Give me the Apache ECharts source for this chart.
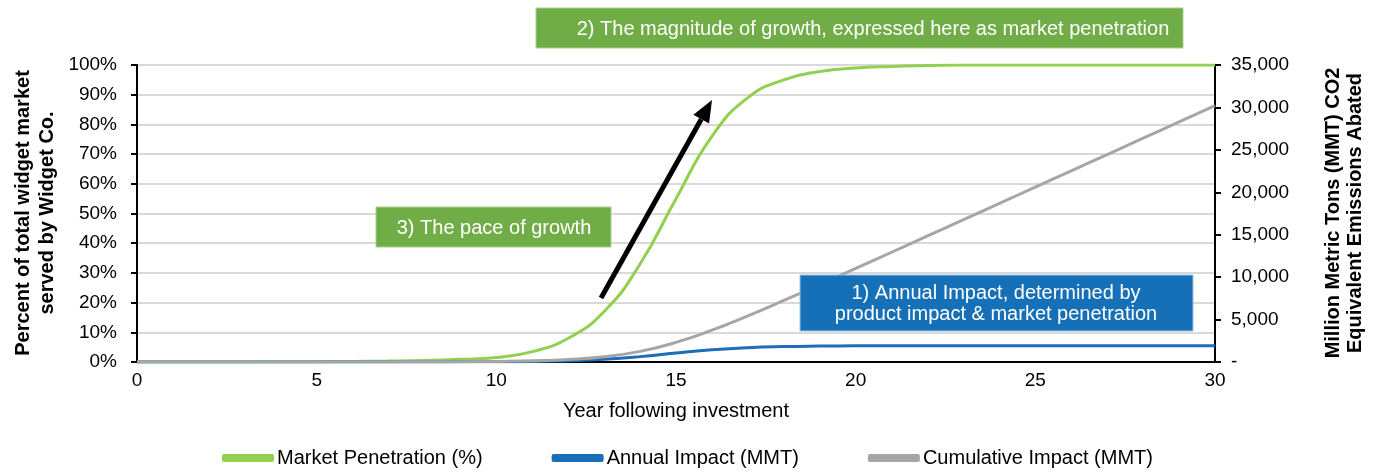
<!DOCTYPE html>
<html>
<head>
<meta charset="utf-8">
<script src="https://cdn.jsdelivr.net/npm/echarts@6/dist/echarts.min.js"></script>
<style>
html,body{margin:0;padding:0;background:#fff;}
#c{width:1374px;height:472px;}
</style>
</head>
<body>
<div id="c"></div>
<script>
// ---- data ----
const years = [0,1,2,3,4,5,6,7,8,9,10,11,12,13,14,15,16,17,18,19,20,21,22,23,24,25,26,27,28,29,30];
const marketPenetration = [0,0,0,0,0.1,0.1,0.2,0.3,0.5,0.9,1.5,3.5,8,17,33,55,76,89,95,97.8,99,99.5,99.8,100,100,100,100,100,100,100,100];
const annualImpact = [0,0,0,0,2,2,4,6,10,17,29,67,154,326,634,1056,1440,1690,1814,1872,1901,1910,1916,1920,1920,1920,1920,1920,1920,1920,1920];
const cumulativeImpact = [0,0,0,0,2,4,8,14,24,41,70,137,291,617,1251,2307,3747,5437,7251,9123,11024,12934,14850,16770,18690,20610,22530,24450,26370,28290,30210];
const seriesNames = ['Market Penetration (%)','Annual Impact (MMT)','Cumulative Impact (MMT)'];
const leftAxisTitle = 'Percent of total widget market\nserved by Widget Co.';
const rightAxisTitle = 'Million Metric Tons (MMT) CO2\nEquivalent Emissions Abated';
const xAxisTitle = 'Year following investment';
const note1 = '1) Annual Impact, determined by\nproduct impact & market penetration';
const note2 = '2) The magnitude of growth, expressed here as market penetration';
const note3 = '3) The pace of growth';

const FONT = 'Liberation Sans, Arial, Helvetica, sans-serif';
const pair = (arr) => years.map((y,i)=>[y,arr[i]]);

const chart = echarts.init(document.getElementById('c'), null, {renderer:'canvas'});

// arrow geometry (annotation)
const tail=[601,298], tip=[712,100];
const dx=tip[0]-tail[0], dy=tip[1]-tail[1], L=Math.hypot(dx,dy);
const ux=dx/L, uy=dy/L, nx=-uy, ny=ux;
const hl=22, hw=9;
const bx=tip[0]-hl*ux, by=tip[1]-hl*uy;

const option = {
  animation:false,
  textStyle:{fontFamily:FONT},
  grid:{left:137,right:159,top:65,bottom:110},
  legend:{
    data:seriesNames,
    bottom:4,
    left:222,
    padding:0,
    itemWidth:52,
    itemHeight:8,
    itemGap:69,
    icon:'roundRect',
    textStyle:{fontSize:20,color:'#000',fontFamily:FONT,padding:[0,0,0,-2]}
  },
  xAxis:{
    type:'value',min:0,max:30,interval:5,
    name:xAxisTitle,nameLocation:'middle',nameGap:39,
    nameTextStyle:{fontSize:20,color:'#000',fontFamily:FONT},
    axisLine:{show:true,lineStyle:{color:'#000',width:2}},
    axisTick:{show:false},
    splitLine:{show:false},
    axisLabel:{fontSize:19,color:'#000',margin:9,fontFamily:FONT}
  },
  yAxis:[{
    type:'value',min:0,max:100,interval:10,position:'left',
    axisLine:{show:true,lineStyle:{color:'#000',width:2}},
    axisTick:{show:true,length:6,lineStyle:{color:'#000',width:2}},
    splitLine:{show:true,lineStyle:{color:'#D9D9D9',width:2}},
    axisLabel:{formatter:'{value}%',fontSize:19,color:'#000',margin:20,fontFamily:FONT}
  },{
    type:'value',min:0,max:35000,interval:5000,position:'right',
    axisLine:{show:true,lineStyle:{color:'#000',width:2}},
    axisTick:{show:true,length:6,lineStyle:{color:'#000',width:2}},
    splitLine:{show:false},
    axisLabel:{fontSize:19,color:'#000',margin:16,fontFamily:FONT,
      formatter:v=> v===0 ? '-' : v.toLocaleString('en-US')}
  }],
  series:[{
    name:seriesNames[0],type:'line',yAxisIndex:0,data:pair(marketPenetration),
    smooth:0.5,symbol:'none',
    lineStyle:{color:'#92D050',width:3},itemStyle:{color:'#92D050'}
  },{
    name:seriesNames[1],type:'line',yAxisIndex:1,data:pair(annualImpact),
    smooth:0.5,symbol:'none',
    lineStyle:{color:'#1B6EB7',width:3},itemStyle:{color:'#1B6EB7'}
  },{
    name:seriesNames[2],type:'line',yAxisIndex:1,data:pair(cumulativeImpact),
    smooth:0.5,symbol:'none',
    lineStyle:{color:'#A6A6A6',width:3},itemStyle:{color:'#A6A6A6'}
  }],
  graphic:[
    // axis titles
    {type:'text',x:35,y:213,rotation:Math.PI/2,z:10,
      style:{text:leftAxisTitle,font:'bold 20px '+FONT,fill:'#000',align:'center',verticalAlign:'middle',lineHeight:24}},
    {type:'text',x:1344,y:213,rotation:Math.PI/2,z:10,
      style:{text:rightAxisTitle,font:'bold 20px '+FONT,fill:'#000',align:'center',verticalAlign:'middle',lineHeight:22}},
    // note 2 box
    {type:'rect',shape:{x:536,y:8,width:647,height:40},z:20,
      style:{fill:'#70AD47',stroke:'#A9D18E',lineWidth:1}},
    {type:'text',x:873,y:29,z:21,
      style:{text:note2,font:'20px '+FONT,fill:'#fff',align:'center',verticalAlign:'middle'}},
    // note 3 box
    {type:'rect',shape:{x:376,y:207,width:235,height:40},z:20,
      style:{fill:'#70AD47',stroke:'#A9D18E',lineWidth:1}},
    {type:'text',x:494,y:228,z:21,
      style:{text:note3,font:'20px '+FONT,fill:'#fff',align:'center',verticalAlign:'middle'}},
    // note 1 box
    {type:'rect',shape:{x:800,y:275,width:393,height:56},z:20,
      style:{fill:'#1570B8',stroke:'#9DC3E6',lineWidth:1}},
    {type:'text',x:996,y:304,z:21,
      style:{text:note1,font:'20px '+FONT,fill:'#fff',align:'center',verticalAlign:'middle',lineHeight:21}},
    // arrow
    {type:'line',z:22,shape:{x1:tail[0],y1:tail[1],x2:bx,y2:by},
      style:{stroke:'#000',lineWidth:5}},
    {type:'polygon',z:22,shape:{points:[[tip[0],tip[1]],[bx+hw*nx,by+hw*ny],[bx-hw*nx,by-hw*ny]]},
      style:{fill:'#000'}}
  ]
};
chart.setOption(option);
</script>
</body>
</html>
